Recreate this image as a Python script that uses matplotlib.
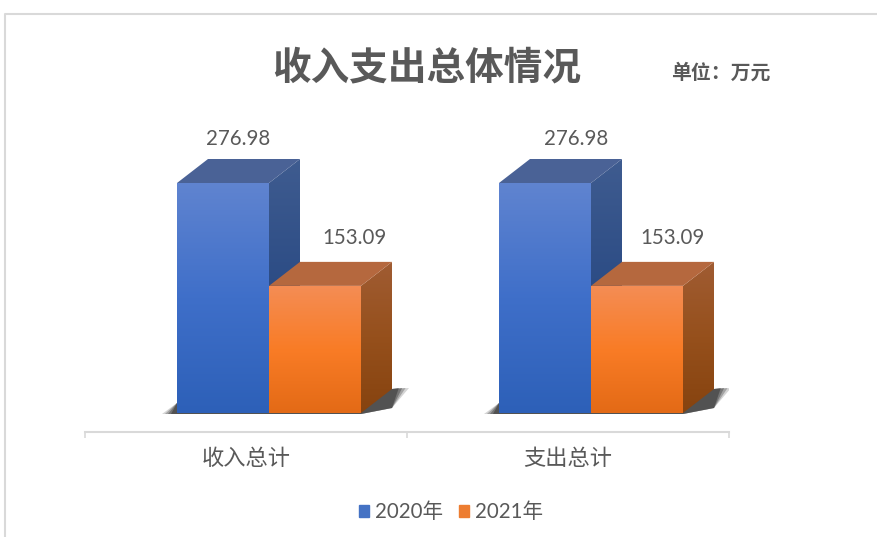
import numpy as np
import matplotlib
matplotlib.use('Agg')
import matplotlib.pyplot as plt
from matplotlib.colors import LinearSegmentedColormap
from matplotlib.lines import Line2D
from matplotlib.patches import Patch, Polygon

plt.rcParams['font.family'] = ['Noto Sans CJK SC', 'DejaVu Sans']

categories = ['收入总计', '支出总计']
series_names = ['2020年', '2021年']
values_2020 = [276.98, 276.98]
values_2021 = [153.09, 153.09]

W, H = 878, 537
GREY = '#595959'

# pixel geometry of the plot
left_px, right_px = 85, 729
base_px, axis_px, top_px = 413, 432, 14
px_per_value = 230 / 276.98
px_per_cat = (right_px - left_px) / 2

bar_w = 92 / px_per_cat
dx = 31 / px_per_cat
dy = 24 / px_per_value
sx = 1 / px_per_cat
sy = 1 / px_per_value
offset = 23 * sx

# data labels were dragged by hand in the original, so they differ per group
label_shift_2020 = [15.5, 31]
label_shift_2021 = [40, 36]

fig = plt.figure(figsize=(W / 100, H / 100), dpi=100)
ax = fig.add_axes([left_px / W, 1 - axis_px / H, (right_px - left_px) / W, (axis_px - top_px) / H])
ax.patch.set_alpha(0)

front_blue = ['#6084d0', '#3f6fc9', '#2d60b8']
side_blue = ['#3f5c90', '#2c4c85', '#24437a']
front_orange = ['#f48d55', '#f97c26', '#e36a16']
side_orange = ['#a05c33', '#96501c', '#86430f']


def gradient(colors, box, clip):
    cmap = LinearSegmentedColormap.from_list('g', colors)
    im = ax.imshow(np.linspace(0, 1, 256).reshape(-1, 1), cmap=cmap, extent=box,
                   aspect='auto', origin='upper', zorder=3, interpolation='bilinear')
    poly = Polygon(clip, closed=True, transform=ax.transData, fc='none', ec='none')
    ax.add_patch(poly)
    im.set_clip_path(poly)


def bar3d(x0, value, front, side, top):
    x1 = x0 + bar_w
    # side face
    pts = [(x1, 0), (x1 + dx, dy), (x1 + dx, value + dy), (x1, value)]
    gradient(side, (x1, x1 + dx, 0, value + dy), pts)
    # top face
    ax.add_patch(Polygon([(x0, value), (x1, value), (x1 + dx, value + dy), (x0 + dx, value + dy)],
                         closed=True, fc=top, ec='none', zorder=3))
    # front face
    pts = [(x0, 0), (x1, 0), (x1, value), (x0, value)]
    gradient(front, (x0, x1, 0, value), pts)


def shadow(x0, x1):
    for grow, alpha in [(1.0, 0.2), (0.8, 0.3), (0.6, 0.4), (0.4, 0.5)]:
        ax.add_patch(Polygon([(x0 - 15 * grow * sx, -1 * sy), (x0, 10 * sy), (x0 + dx, 10 * sy),
                              (x1 + dx, dy), (x1 + dx + 17 * grow * sx, dy + 1 * sy),
                              (x1 + dx, 5 * sy), (x1, -1 * sy)],
                             closed=True, fc='#303030', ec='none', alpha=alpha, zorder=2))


label_font = ['Lato', 'Noto Sans CJK SC']

for i in range(len(categories)):
    x_mid = i + offset
    x_left = x_mid - bar_w
    shadow(x_left, x_mid + bar_w)
    bar3d(x_left, values_2020[i], front_blue, side_blue, '#4a6296')
    bar3d(x_mid, values_2021[i], front_orange, side_orange, '#b5683e')
    ax.text(x_left + bar_w / 2 + label_shift_2020[i] * sx, values_2020[i] + dy + 20 * sy, f'{values_2020[i]:.2f}',
            ha='center', va='center', fontsize=14.8, color=GREY, family=label_font, zorder=5)
    ax.text(x_mid + bar_w / 2 + label_shift_2021[i] * sx, values_2021[i] + dy + 24 * sy, f'{values_2021[i]:.2f}',
            ha='center', va='center', fontsize=14.8, color=GREY, family=label_font, zorder=5)

ax.set_xlim(-0.5, 1.5)
ax.set_ylim((base_px - axis_px) / px_per_value, (base_px - top_px) / px_per_value)

ax.set_xticks(range(len(categories)))
ax.set_xticklabels(categories, fontsize=16, color=GREY)
ax.set_xticks([-0.5, 0.5, 1.5], minor=True)
ax.tick_params(axis='x', which='major', length=0, pad=11)
ax.tick_params(axis='x', which='minor', length=4, width=1.2, color='#d9d9d9', direction='out')
ax.set_yticks([])
for s in ['top', 'right', 'left']:
    ax.spines[s].set_visible(False)
ax.spines['bottom'].set_color('#d9d9d9')
ax.spines['bottom'].set_linewidth(1.5)

handles = [Patch(color='#4472c4'), Patch(color='#ed7d31')]
fig.legend(handles, series_names, loc='center', bbox_to_anchor=(451 / W, 1 - 512 / H), ncol=2, frameon=False,
           prop={'family': label_font, 'size': 14.8}, labelcolor=GREY, handlelength=0.5, handleheight=0.5,
           handletextpad=0.3, columnspacing=0.75, borderpad=0)

fig.text(427 / W, 1 - 68 / H, '收入支出总体情况', ha='center', va='center', fontsize=27.8,
         fontweight='bold', color=GREY)
fig.text(721 / W, 1 - 72 / H, '单位：万元', ha='center', va='center', fontsize=14.3,
         fontweight='bold', color=GREY)

# chart frame
fig.add_artist(Line2D([5 / W, 5 / W, 1], [0, 1 - 14 / H, 1 - 14 / H], transform=fig.transFigure,
                      color='#d9d9d9', lw=1.5))

fig.savefig('out.png', dpi=100)
